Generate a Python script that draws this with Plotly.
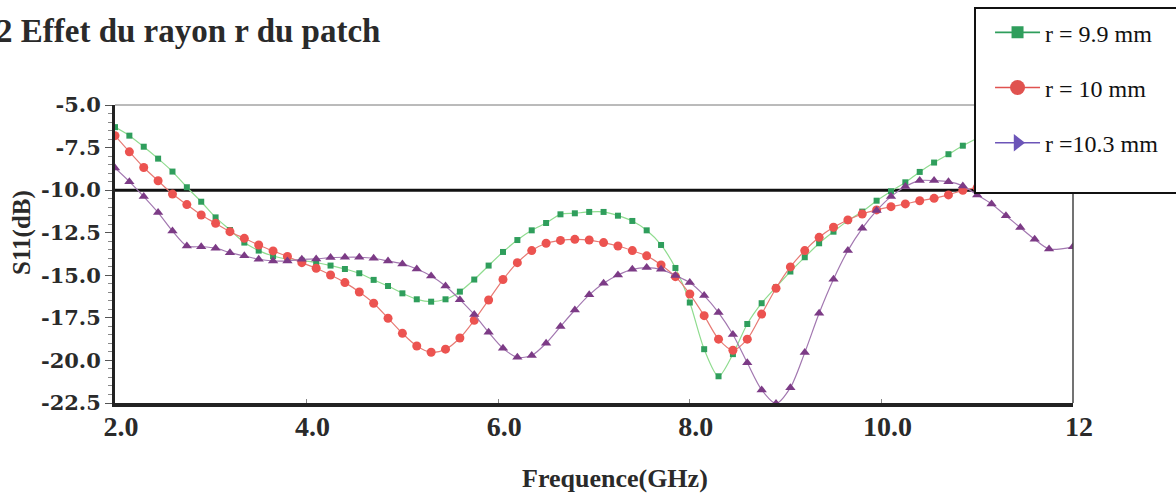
import plotly.graph_objects as go

# Frequency sweep (GHz), one sample every 0.15 GHz, plus the band edge at 12 GHz
freq = [2.00, 2.15, 2.30, 2.45, 2.60, 2.75, 2.90, 3.05, 3.20, 3.35,
        3.50, 3.65, 3.80, 3.95, 4.10, 4.25, 4.40, 4.55, 4.70, 4.85,
        5.00, 5.15, 5.30, 5.45, 5.60, 5.75, 5.90, 6.05, 6.20, 6.35,
        6.50, 6.65, 6.80, 6.95, 7.10, 7.25, 7.40, 7.55, 7.70, 7.85,
        8.00, 8.15, 8.30, 8.45, 8.60, 8.75, 8.90, 9.05, 9.20, 9.35,
        9.50, 9.65, 9.80, 9.95, 10.10, 10.25, 10.40, 10.55, 10.70, 10.85,
        11.00, 11.15, 11.30, 11.45, 11.60, 11.75, 12.00]

# S11 (dB) for r = 9.9 mm
s11_r99 = [-6.30, -6.80, -7.45, -8.15, -8.91, -9.83, -10.68, -11.60, -12.34, -13.08,
           -13.55, -13.87, -14.06, -14.14, -14.25, -14.43, -14.63, -14.88, -15.27, -15.63,
           -16.06, -16.41, -16.55, -16.41, -15.96, -15.25, -14.43, -13.63, -12.93, -12.36,
           -11.93, -11.42, -11.36, -11.28, -11.28, -11.50, -11.81, -12.36, -13.22, -14.57,
           -16.60, -19.34, -20.93, -19.63, -17.86, -16.64, -15.70, -14.78, -13.94, -13.12,
           -12.44, -11.79, -11.26, -10.62, -10.07, -9.54, -8.93, -8.38, -7.89, -7.39,
           -6.95]

# S11 (dB) for r = 10 mm
s11_r10 = [-6.80, -7.75, -8.67, -9.45, -10.23, -10.85, -11.46, -11.95, -12.44, -12.83,
           -13.22, -13.57, -13.90, -14.26, -14.59, -14.98, -15.43, -15.98, -16.64, -17.52,
           -18.41, -19.15, -19.52, -19.34, -18.68, -17.64, -16.45, -15.25, -14.26, -13.55,
           -13.12, -12.95, -12.89, -12.93, -13.08, -13.28, -13.55, -13.86, -14.39, -15.08,
           -16.10, -17.37, -18.75, -19.40, -18.75, -17.28, -15.76, -14.51, -13.55, -12.77,
           -12.18, -11.75, -11.40, -11.16, -10.97, -10.81, -10.62, -10.48, -10.28, -10.01,
           -9.85]

# S11 (dB) for r = 10.3 mm
s11_r103 = [-8.70, -9.50, -10.38, -11.32, -12.40, -13.28, -13.32, -13.41, -13.67, -13.86,
            -14.06, -14.16, -14.16, -14.06, -14.04, -13.96, -13.94, -13.94, -14.00, -14.16,
            -14.33, -14.63, -15.04, -15.63, -16.43, -17.31, -18.35, -19.29, -19.81, -19.71,
            -18.99, -18.01, -17.04, -16.15, -15.47, -14.98, -14.65, -14.55, -14.65, -15.01,
            -15.43, -16.19, -17.19, -18.48, -20.14, -21.73, -22.53, -21.60, -19.54, -17.23,
            -15.23, -13.55, -12.24, -11.20, -10.38, -9.79, -9.44, -9.44, -9.50, -9.75,
            -10.28, -10.81, -11.50, -12.20, -12.89, -13.46, -13.33]

x_ticks = [2, 4, 6, 8, 10, 12]
x_tick_text = ["2.0", "4.0", "6.0", "8.0", "10.0", "12"]
y_ticks = [-5.0, -7.5, -10.0, -12.5, -15.0, -17.5, -20.0, -22.5]
y_tick_text = ["-5.0", "-7.5", "-10.0", "-12.5", "-15.0", "-17.5", "-20.0", "-22.5"]

series = [
    dict(name="r = 9.9 mm", y=s11_r99, line="#8fdc8f", marker="#2f9e5c",
         symbol="square", size=6, leg_line="#2f9e5c", leg_symbol="square", leg_size=12),
    dict(name="r = 10 mm", y=s11_r10, line="#e77a74", marker="#ec5350",
         symbol="circle", size=9, leg_line="#e0524f", leg_symbol="circle", leg_size=15),
    dict(name="r =10.3 mm", y=s11_r103, line="#a277b0", marker="#7c3b86",
         symbol="triangle-up", size=9, leg_line="#6c55b8", leg_symbol="triangle-right", leg_size=15),
]

fig = go.Figure()
for s in series:
    fig.add_trace(go.Scatter(
        x=freq[:len(s["y"])], y=s["y"], mode="lines+markers",
        line=dict(color=s["line"], width=1.2, shape="spline", smoothing=0.8),
        marker=dict(color=s["marker"], symbol=s["symbol"], size=s["size"], line=dict(width=0)),
        showlegend=False, hoverinfo="x+y",
    ))

# legend entries with larger key symbols
for k, s in enumerate(series):
    fig.add_trace(go.Scatter(
        x=[None], y=[None], mode="lines+markers", name=s["name"],
        legendgroup=f"g{k}",
        line=dict(color=s["leg_line"], width=1.6),
        marker=dict(color=s["leg_line"], symbol=s["leg_symbol"], size=s["leg_size"]),
    ))

serif = "Liberation Serif"

shapes = [
    # -10 dB reference line
    dict(type="line", xref="paper", yref="y", x0=0, x1=1.01, y0=-10, y1=-10,
         line=dict(color="#111111", width=3), layer="below"),
    # top frame
    dict(type="line", xref="paper", yref="paper", x0=0, x1=1, y0=1, y1=1,
         line=dict(color="#777777", width=1)),
    # right frame
    dict(type="line", xref="paper", yref="paper", x0=1, x1=1, y0=0, y1=1,
         line=dict(color="#444444", width=1.5)),
    # legend panel
    dict(type="rect", xref="paper", yref="paper", x0=0.8977, x1=1.2, y0=0.7047, y1=1.3255,
         fillcolor="white", line=dict(color="#111111", width=2), layer="above"),
]

annotations = [
    dict(text="2 Effet du rayon r du patch", xref="paper", yref="paper",
         x=-0.1263, y=1.248, xanchor="left", yanchor="middle", showarrow=False,
         font=dict(family=serif, size=33, color="#2a2a2a", weight="bold")),
    dict(text="Frequence(GHz)", xref="paper", yref="paper",
         x=0.522, y=-0.2517, xanchor="center", yanchor="middle", showarrow=False,
         font=dict(family=serif, size=26, color="#2a2a2a", weight="bold")),
    dict(text="S11(dB)", xref="paper", yref="paper", textangle=-90,
         x=-0.0971, y=0.574, xanchor="center", yanchor="middle", showarrow=False,
         font=dict(family=serif, size=25, color="#2a2a2a", weight="bold")),
]

fig.update_layout(
    width=1176, height=493,
    margin=dict(l=115, r=103, t=105, b=90, autoexpand=False),
    paper_bgcolor="white", plot_bgcolor="white",
    shapes=shapes, annotations=annotations,
    legend=dict(
        x=0.9134, y=1.318, xanchor="left", yanchor="top",
        xref="paper", yref="paper",
        bgcolor="rgba(0,0,0,0)", borderwidth=0,
        font=dict(family=serif, size=24, color="#111111"),
        itemwidth=45, tracegroupgap=21,
    ),
    xaxis=dict(
        range=[2, 12], tickvals=x_ticks, ticktext=x_tick_text,
        showgrid=False, zeroline=False, automargin=False,
        showline=True, linecolor="#222222", linewidth=4,
        ticks="inside", ticklen=4, tickcolor="#888888", tickwidth=1,
        tickfont=dict(family=serif, size=28, color="#2a2a2a", weight="bold"),
        ticklabelshift=6, ticklabelstandoff=-5,
    ),
    yaxis=dict(
        range=[-22.5, -5], tickvals=y_ticks, ticktext=y_tick_text,
        showgrid=False, zeroline=False, automargin=False,
        showline=True, linecolor="#222222", linewidth=3,
        ticks="outside", ticklen=7, tickcolor="#555555", tickwidth=1.2,
        minor=dict(dtick=0.5, ticks="outside", ticklen=4, tickcolor="#888888", tickwidth=1),
        tickfont=dict(family="DejaVu Serif", size=21, color="#2a2a2a", weight="bold"),
    ),
)

fig.write_html("out.html")
